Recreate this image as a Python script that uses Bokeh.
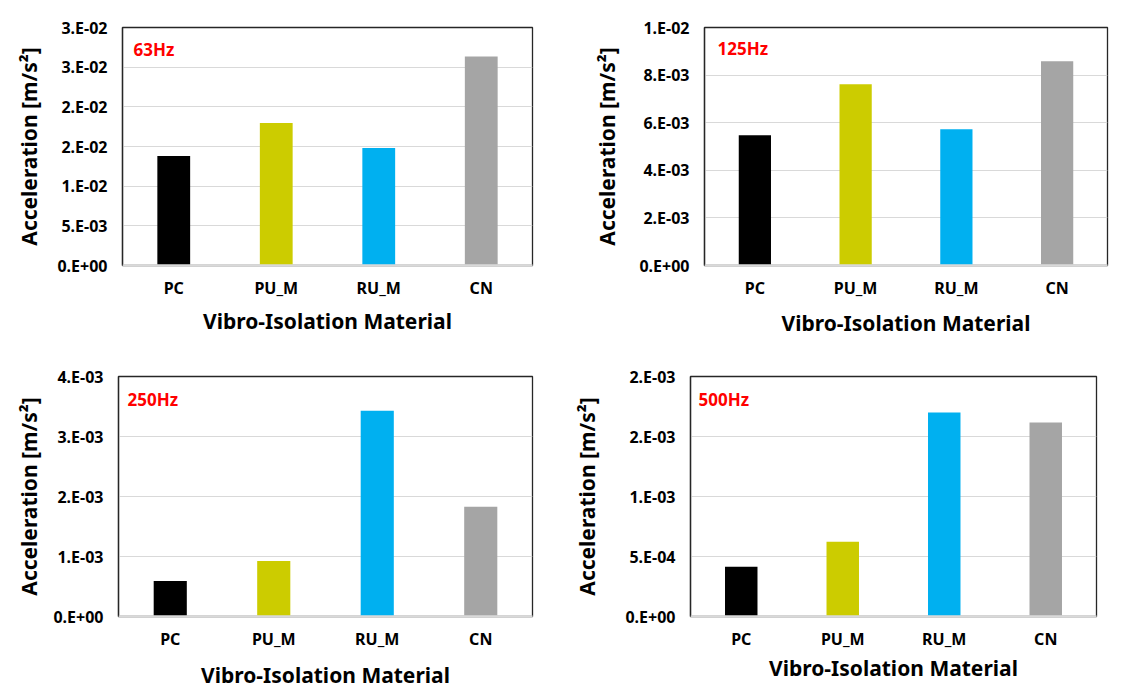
from bokeh.plotting import figure
from bokeh.models import Range1d, FactorRange, FixedTicker, CustomJSTickFormatter, Label, Span
from bokeh.layouts import column, row
from bokeh.embed import file_html
from bokeh.resources import INLINE

# ---- data ----
categories = ["PC", "PU_M", "RU_M", "CN"]
bar_colors = ["#000000", "#CCCC00", "#00B0F0", "#A5A5A5"]

freq_labels = ["63Hz", "125Hz", "250Hz", "500Hz"]

acc_63 = [0.01381, 0.01795, 0.01481, 0.02636]
acc_125 = [0.00547, 0.00762, 0.00572, 0.00858]
acc_250 = [0.000593, 0.000923, 0.003429, 0.00183]
acc_500 = [0.000414, 0.000622, 0.001699, 0.001616]

ticks_63 = [0.0, 0.005, 0.010, 0.015, 0.020, 0.025, 0.030]
tlabels_63 = ["0.E+00", "5.E-03", "1.E-02", "2.E-02", "2.E-02", "3.E-02", "3.E-02"]
ticks_125 = [0.0, 0.002, 0.004, 0.006, 0.008, 0.010]
tlabels_125 = ["0.E+00", "2.E-03", "4.E-03", "6.E-03", "8.E-03", "1.E-02"]
ticks_250 = [0.0, 0.001, 0.002, 0.003, 0.004]
tlabels_250 = ["0.E+00", "1.E-03", "2.E-03", "3.E-03", "4.E-03"]
ticks_500 = [0.0, 0.0005, 0.0010, 0.0015, 0.0020]
tlabels_500 = ["0.E+00", "5.E-04", "1.E-03", "2.E-03", "2.E-03"]

FONT = "Noto Sans"


def make_panel(values, ticks, tlabels, freq, width, height, bl, br, bt, bb,
               ylab_standoff, xlab_standoff, lab_dx, lab_dy):
    p = figure(
        x_range=FactorRange(*categories, range_padding=0),
        y_range=Range1d(ticks[0], ticks[-1]),
        width=width, height=height,
        min_border_left=bl, min_border_right=br, min_border_top=bt, min_border_bottom=bb,
        output_backend="svg", toolbar_location=None,
    )
    p.vbar(x=categories, top=values, width=0.32, color=bar_colors, line_color=None)

    p.background_fill_color = "white"
    p.border_fill_color = "white"
    p.outline_line_color = "#262626"
    p.outline_line_width = 1.3

    p.xgrid.grid_line_color = None
    p.ygrid.grid_line_color = "#D9D9D9"
    p.ygrid.grid_line_width = 1

    p.yaxis.ticker = FixedTicker(ticks=ticks)
    p.yaxis.formatter = CustomJSTickFormatter(
        args=dict(t=ticks, l=tlabels),
        code="""
        let idx = 0, best = 1e99;
        for (let k = 0; k < t.length; k++) {
            const d = Math.abs(t[k] - tick);
            if (d < best) { best = d; idx = k; }
        }
        return l[idx];
        """,
    )
    for ax in (p.xaxis[0], p.yaxis[0]):
        ax.major_tick_line_color = None
        ax.minor_tick_line_color = None
        ax.major_tick_out = 0
        ax.major_tick_in = 0
        ax.major_label_text_font = FONT
        ax.major_label_text_font_style = "bold"
        ax.major_label_text_font_size = "16px"
        ax.major_label_text_color = "#000000"
        ax.axis_label_text_font = FONT
        ax.axis_label_text_font_style = "bold"
        ax.axis_label_text_color = "#000000"

    p.yaxis.axis_line_color = "#262626"
    p.yaxis.axis_line_width = 1.3
    p.yaxis.major_label_standoff = 15
    p.yaxis.axis_label = "Acceleration [m/s²]"
    p.yaxis.axis_label_text_font_size = "21px"
    p.yaxis.axis_label_standoff = ylab_standoff

    p.xaxis.axis_line_color = "#D9D9D9"
    p.xaxis.axis_line_width = 2
    p.xaxis.major_label_standoff = 11
    p.xaxis.axis_label = "Vibro-Isolation Material"
    p.xaxis.axis_label_text_font_size = "21px"
    p.xaxis.axis_label_standoff = xlab_standoff

    p.add_layout(Span(location=ticks[0], dimension="width", line_color="#D9D9D9",
                      line_width=2, level="overlay"))

    p.add_layout(Label(x=lab_dx, x_units="screen", y=ticks[-1], y_units="data", y_offset=lab_dy,
                       text=freq, text_color="#FF0000", text_font=FONT,
                       text_font_style="bold", text_font_size="17px",
                       text_baseline="alphabetic"))
    return p


p1 = make_panel(acc_63, ticks_63, tlabels_63, freq_labels[0], 578, 345, 122, 46, 27, 79, 11, 5, 11, -22)
p2 = make_panel(acc_125, ticks_125, tlabels_125, freq_labels[1], 547, 345, 126, 18, 27, 80, 15, 7, 13, -21)
p3 = make_panel(acc_250, ticks_250, tlabels_250, freq_labels[2], 566, 351, 118, 34, 31, 77, 7, 8, 9, -23)
p4 = make_panel(acc_500, ticks_500, tlabels_500, freq_labels[3], 559, 351, 124, 29, 29, 80, 21, 1, 8, -23)

layout = column(row(p1, p2, spacing=0), row(p3, p4, spacing=0), spacing=0)

open("out.html", "w").write(file_html(layout, INLINE))
